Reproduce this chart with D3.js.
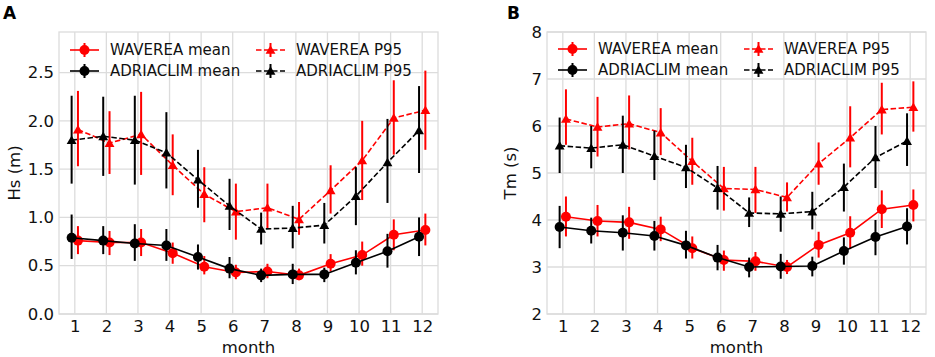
<!DOCTYPE html>
<html>
<head>
<meta charset="utf-8">
<script src="https://cdn.jsdelivr.net/npm/d3@7"></script>
<style>
body { margin: 0; background: white; }
text { font-family: "DejaVu Sans", sans-serif; }
</style>
</head>
<body>
<div id="chart"></div>
<script>
const months = [1,2,3,4,5,6,7,8,9,10,11,12];

// panel A : Hs (m)
const hsWavMean = [0.76,0.74,0.74,0.63,0.49,0.43,0.44,0.40,0.52,0.61,0.82,0.87];
const hsWavMeanLo = [0.62,0.61,0.60,0.52,0.41,0.36,0.37,0.35,0.44,0.50,0.66,0.71];
const hsWavMeanHi = [0.91,0.86,0.88,0.74,0.60,0.51,0.52,0.47,0.62,0.75,0.98,1.04];
const hsAdrMean = [0.79,0.76,0.73,0.71,0.59,0.47,0.40,0.41,0.41,0.53,0.65,0.80];
const hsAdrMeanLo = [0.57,0.62,0.55,0.55,0.46,0.37,0.33,0.31,0.33,0.41,0.48,0.60];
const hsAdrMeanHi = [1.03,0.91,0.93,0.88,0.72,0.59,0.47,0.52,0.48,0.66,0.83,1.00];
const hsWavP95 = [1.91,1.77,1.86,1.54,1.24,1.06,1.10,0.98,1.28,1.59,2.03,2.11];
const hsWavP95Lo = [1.53,1.45,1.44,1.23,0.95,0.77,0.88,0.82,1.04,1.18,1.65,1.70];
const hsWavP95Hi = [2.31,2.10,2.30,1.86,1.52,1.35,1.35,1.16,1.54,2.00,2.42,2.52];
const hsAdrP95 = [1.80,1.84,1.80,1.67,1.39,1.12,0.88,0.89,0.92,1.22,1.57,1.90];
const hsAdrP95Lo = [1.35,1.43,1.34,1.30,1.10,0.87,0.72,0.68,0.73,0.92,1.15,1.46];
const hsAdrP95Hi = [2.26,2.25,2.26,2.09,1.70,1.40,1.05,1.12,1.15,1.52,2.02,2.36];

// panel B : Tm (s)
const tmWavMean = [4.07,3.98,3.95,3.80,3.40,3.15,3.12,3.00,3.47,3.73,4.23,4.32];
const tmWavMeanLo = [3.65,3.65,3.60,3.55,3.18,2.92,2.92,2.85,3.20,3.38,3.83,3.97];
const tmWavMeanHi = [4.50,4.32,4.28,4.07,3.65,3.35,3.32,3.15,3.75,4.08,4.63,4.65];
const tmAdrMean = [3.85,3.77,3.73,3.66,3.46,3.20,3.00,3.01,3.02,3.34,3.64,3.86];
const tmAdrMeanLo = [3.40,3.50,3.35,3.35,3.18,2.93,2.78,2.75,2.80,3.05,3.25,3.48];
const tmAdrMeanHi = [4.30,4.05,4.10,3.98,3.77,3.47,3.20,3.28,3.22,3.63,4.00,4.25];
const tmWavP95 = [6.15,5.98,6.05,5.86,5.25,4.67,4.65,4.48,5.20,5.75,6.35,6.40];
const tmWavP95Lo = [5.60,5.35,5.50,5.38,4.75,4.20,4.15,4.18,4.75,5.12,5.82,5.88];
const tmWavP95Hi = [6.78,6.62,6.65,6.38,5.75,5.13,5.13,4.80,5.65,6.42,6.92,6.95];
const tmAdrP95 = [5.58,5.53,5.60,5.36,5.12,4.68,4.15,4.13,4.18,4.70,5.33,5.68];
const tmAdrP95Lo = [5.00,5.10,5.00,4.85,4.68,4.22,3.85,3.75,3.80,4.18,4.68,5.15];
const tmAdrP95Hi = [6.18,6.00,6.22,5.90,5.60,5.15,4.48,4.50,4.60,5.20,6.00,6.27];

const legendNames = ["WAVEREA mean","ADRIACLIM mean","WAVEREA P95","ADRIACLIM P95"];
const hsTicks = [0.0,0.5,1.0,1.5,2.0,2.5];
const tmTicks = [2,3,4,5,6,7,8];

const RED = "#ff0000", BLACK = "#000000", GRID = "#dcdcdc";

const svg = d3.select("#chart").append("svg")
    .attr("width", 935)
    .attr("height", 357);

function makeSeries(vals, lo, hi, color, dashed, marker, dx) {
    return {data: months.map((m,i) => ({m: m + dx, v: vals[i], lo: lo[i], hi: hi[i]})),
            color: color, dashed: dashed, marker: marker};
}

function drawPanel(opt) {
    const g = svg.append("g").attr("transform", `translate(${opt.left},${opt.top})`);
    const w = opt.width, h = opt.height;
    const x = d3.scaleLinear().domain([0.5, 12.5]).range([0, w]);
    const y = d3.scaleLinear().domain(opt.ydomain).range([h, 0]);

    // grid
    g.selectAll(".gx").data(months).join("line")
        .attr("x1", d => x(d)).attr("x2", d => x(d))
        .attr("y1", 0).attr("y2", h)
        .attr("stroke", GRID).attr("stroke-width", 1.3);
    g.selectAll(".gy").data(opt.ticks).join("line")
        .attr("x1", 0).attr("x2", w)
        .attr("y1", d => y(d)).attr("y2", d => y(d))
        .attr("stroke", GRID).attr("stroke-width", 1.3);

    // axes
    const xa = g.append("g").attr("transform", `translate(0,${h})`)
        .call(d3.axisBottom(x).tickValues(months).tickSize(0).tickPadding(6));
    const ya = g.append("g")
        .call(d3.axisLeft(y).tickValues(opt.ticks).tickSize(0).tickPadding(5).tickFormat(opt.fmt));
    [xa, ya].forEach(a => {
        a.select(".domain").remove();
        a.selectAll("text").attr("font-size", 16.5).attr("fill", "#111")
            .attr("font-family", "DejaVu Sans, sans-serif");
    });

    // frame
    g.append("rect").attr("width", w).attr("height", h)
        .attr("fill", "none").attr("stroke", GRID).attr("stroke-width", 1.3);

    const line = d3.line().x(d => x(d.m)).y(d => y(d.v));
    const tri = d3.symbol().type(d3.symbolTriangle).size(42);

    opt.series.forEach(s => {
        const sg = g.append("g");
        sg.selectAll("line.err").data(s.data).join("line")
            .attr("x1", d => x(d.m)).attr("x2", d => x(d.m))
            .attr("y1", d => y(d.lo)).attr("y2", d => y(d.hi))
            .attr("stroke", s.color).attr("stroke-width", 2);
        sg.append("path").attr("d", line(s.data))
            .attr("fill", "none").attr("stroke", s.color).attr("stroke-width", 1.6)
            .attr("stroke-dasharray", s.dashed ? "5.5,2.5" : null);
        if (s.marker === "circle") {
            sg.selectAll("circle").data(s.data).join("circle")
                .attr("cx", d => x(d.m)).attr("cy", d => y(d.v)).attr("r", 5)
                .attr("fill", s.color);
        } else {
            sg.selectAll("path.tri").data(s.data).join("path")
                .attr("transform", d => `translate(${x(d.m)},${y(d.v) + 1})`)
                .attr("d", tri).attr("fill", s.color);
        }
    });

    // legend
    const lg = svg.append("g");
    opt.series.forEach((s, i) => {
        const col = Math.floor(i / 2), row = i % 2;
        const lx = opt.legX[col], ly = opt.legY + row * 21;
        lg.append("line").attr("x1", lx).attr("x2", lx + 29).attr("y1", ly).attr("y2", ly)
            .attr("stroke", s.color).attr("stroke-width", 1.6)
            .attr("stroke-dasharray", s.dashed ? "5.5,2.5" : null);
        lg.append("line").attr("x1", lx + 14.5).attr("x2", lx + 14.5).attr("y1", ly - 7).attr("y2", ly + 7)
            .attr("stroke", s.color).attr("stroke-width", 2);
        if (s.marker === "circle") {
            lg.append("circle").attr("cx", lx + 14.5).attr("cy", ly).attr("r", 5).attr("fill", s.color);
        } else {
            lg.append("path").attr("transform", `translate(${lx + 14.5},${ly + 1})`)
                .attr("d", tri).attr("fill", s.color);
        }
        lg.append("text").attr("x", lx + 40).attr("y", ly).attr("dy", "0.35em")
            .attr("font-size", 15).attr("fill", "#111").text(legendNames[i]);
    });

    // labels
    svg.append("text").attr("x", opt.left + w / 2).attr("y", 353)
        .attr("text-anchor", "middle").attr("font-size", 16.5).attr("fill", "#111").text("month");
    svg.append("text")
        .attr("transform", `translate(${opt.ylabX},${opt.top + h / 2}) rotate(-90)`)
        .attr("text-anchor", "middle").attr("font-size", 16.5).attr("fill", "#111").text(opt.ylabel);
    svg.append("text").attr("x", opt.letterX).attr("y", 19)
        .attr("font-size", 17).attr("font-weight", "bold").attr("fill", "#000").text(opt.letter);
}

drawPanel({
    left: 59, top: 32, width: 379, height: 282,
    ydomain: [0, 2.92], ticks: hsTicks, fmt: d3.format(".1f"),
    series: [
        makeSeries(hsWavMean, hsWavMeanLo, hsWavMeanHi, RED, false, "circle", 0.1),
        makeSeries(hsAdrMean, hsAdrMeanLo, hsAdrMeanHi, BLACK, false, "circle", -0.1),
        makeSeries(hsWavP95, hsWavP95Lo, hsWavP95Hi, RED, true, "tri", 0.1),
        makeSeries(hsAdrP95, hsAdrP95Lo, hsAdrP95Hi, BLACK, true, "tri", -0.1)
    ],
    legX: [70, 256], legY: 50,
    ylabel: "Hs (m)", ylabX: 20, letter: "A", letterX: 3
});

drawPanel({
    left: 547, top: 32, width: 379, height: 282,
    ydomain: [2, 8], ticks: tmTicks, fmt: d3.format("d"),
    series: [
        makeSeries(tmWavMean, tmWavMeanLo, tmWavMeanHi, RED, false, "circle", 0.1),
        makeSeries(tmAdrMean, tmAdrMeanLo, tmAdrMeanHi, BLACK, false, "circle", -0.1),
        makeSeries(tmWavP95, tmWavP95Lo, tmWavP95Hi, RED, true, "tri", 0.1),
        makeSeries(tmAdrP95, tmAdrP95Lo, tmAdrP95Hi, BLACK, true, "tri", -0.1)
    ],
    legX: [558, 744], legY: 49,
    ylabel: "Tm (s)", ylabX: 516, letter: "B", letterX: 507
});
</script>
</body>
</html>
